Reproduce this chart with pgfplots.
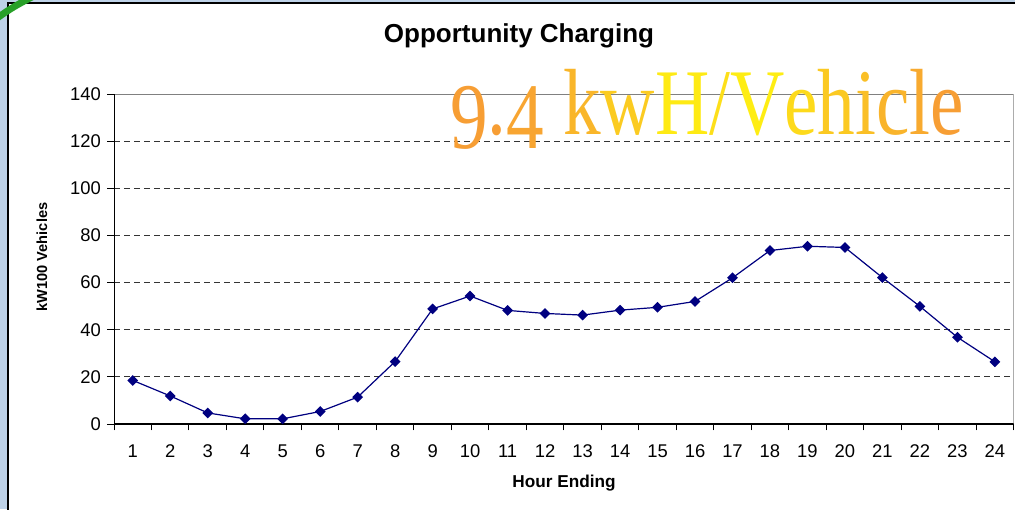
\documentclass[border=0pt]{standalone}
\usepackage{fontspec}
\setmainfont{Liberation Sans}
\newfontfamily\seriffont{Liberation Serif}
\usepackage{pgfplots}
\pgfplotsset{compat=1.18}
\definecolor{navy}{RGB}{0,0,128}
\definecolor{framebg}{RGB}{190,210,232}
\definecolor{arcgreen}{RGB}{40,160,40}
\definecolor{ora}{RGB}{247,158,52}
\definecolor{yel}{RGB}{255,244,16}

\begin{document}
\begin{tikzpicture}[x=0.5pt,y=0.5pt]
\clip (0,0) rectangle (1015,509);
\fill[framebg] (0,0) rectangle (1015,509);
\fill[white] (8,-10) rectangle (1030,506);
\draw[black, line width=0.6pt] (8,-10) -- (8,506) -- (1030,506);
\draw[arcgreen, line width=3.4pt] (-4,490) .. controls (8,499) and (18,505) .. (34,513);

\begin{axis}[
  at={(57pt,42.5pt)}, anchor=south west,
  scale only axis, width=449.8pt, height=165pt,
  xmin=0.5, xmax=24.5, ymin=0, ymax=140,
  xtick={1,...,24}, ytick={0,20,...,140},
  minor xtick={0.5,1.5,...,24.5},
  xtick pos=bottom, ytick pos=left,
  tick align=outside,
  major x tick style={draw=none},
  minor x tick style={black, line width=0.5pt},
  major y tick style={black, line width=0.5pt},
  minor tick length=3.2pt, major tick length=3.5pt,
  axis line style={draw=none},
  ymajorgrids,
  major grid style={black!80, dash pattern=on 3pt off 2pt, line width=0.5pt},
  ticklabel style={font=\fontsize{9.2}{10}\selectfont},
  xticklabel style={yshift=-3.5pt},
  yticklabel style={xshift=0.5pt},
  /pgf/number format/assume math mode=true,
]
\draw[gray, line width=0.8pt] (rel axis cs:0,1) -- (rel axis cs:1,1) -- (rel axis cs:1,0);
\draw[black, line width=0.6pt] (rel axis cs:0,1) -- (rel axis cs:0,0) -- (rel axis cs:1,0);
\addplot[navy, line width=0.6pt, mark=square*, mark size=1.6pt,
  mark options={rotate=45, fill=navy, draw=navy}] coordinates {
  (1,18.5) (2,11.9) (3,4.7) (4,2.2) (5,2.2) (6,5.3) (7,11.4) (8,26.5)
  (9,48.8) (10,54.3) (11,48.2) (12,46.9) (13,46.2) (14,48.3) (15,49.5) (16,52.0)
  (17,62.0) (18,73.6) (19,75.4) (20,74.9) (21,62.1) (22,49.9) (23,36.8) (24,26.4)
};
\end{axis}

\node[font=\bfseries\fontsize{13}{14}\selectfont] at (519,473) {Opportunity Charging};
\node[font=\bfseries\fontsize{8.6}{9}\selectfont] at (564,26) {Hour Ending};
\node[font=\bfseries\fontsize{7.3}{8}\selectfont, rotate=90] at (42,252) {kW100 Vehicles};

\node[anchor=base west, inner sep=0pt, xscale=0.8,
  font=\seriffont\fontsize{47}{47}\selectfont] at (450,374)
  {\raisebox{-7pt}{\textcolor{ora}{9}}\textcolor{ora}{.}\raisebox{-7pt}{\textcolor{ora!92!yel}{4}}
   \textcolor{ora!72!yel}{k}\textcolor{ora!48!yel}{w}\textcolor{ora!12!yel}{H}\textcolor{ora!25!yel}{/}\textcolor{ora!8!yel}{V}\textcolor{ora!30!yel}{e}\textcolor{ora!50!yel}{h}\textcolor{ora!62!yel}{i}\textcolor{ora!74!yel}{c}\textcolor{ora!86!yel}{l}\textcolor{ora}{e}};
\end{tikzpicture}
\end{document}
